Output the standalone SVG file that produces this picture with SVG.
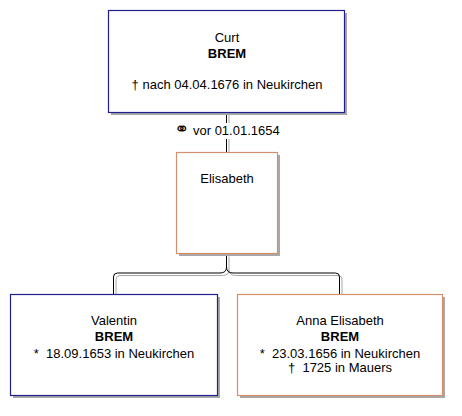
<svg xmlns="http://www.w3.org/2000/svg" width="462" height="416" viewBox="0 0 462 416">
<style>
text{font-family:"Liberation Sans",Arial,sans-serif;font-size:13px;fill:#000;text-anchor:middle}
.b{font-weight:bold}
.sym{font-family:"DejaVu Sans",sans-serif;font-size:18px}
.shadow{fill:#a8a8a8}
.m{fill:#fff;stroke:#1f1f8f;stroke-width:1.2}
.f{fill:#fff;stroke:#d4906c;stroke-width:1.2}
.c{fill:none;stroke:#000;stroke-width:1}
.cs{fill:none;stroke:#a8a8a8;stroke-width:1}
</style>
<rect width="462" height="416" fill="#fff"/>
<g id="connectors">
<g transform="translate(2.5,2.5)">
<path class="cs" d="M226.5,112 V152"/>
<path class="cs" d="M226.5,254 V267 Q226.5,273 220,273 H117.5 Q113.5,273 113.5,277 V294"/>
<path class="cs" d="M226.5,267 Q226.5,273 233,273 H335.5 Q339.5,273 339.5,277 V294"/>
</g>
<path class="c" d="M226.5,112 V152"/>
<path class="c" d="M226.5,254 V267 Q226.5,273 220,273 H117.5 Q113.5,273 113.5,277 V294"/>
<path class="c" d="M226.5,267 Q226.5,273 233,273 H335.5 Q339.5,273 339.5,277 V294"/>
<g id="marriage-label">
<rect x="174" y="123" width="106" height="16" fill="#fff"/>
<text x="227" y="135"><tspan class="sym">⚭</tspan> vor 01.01.1654</text>
</g>
</g>
<g id="curt">
<rect class="shadow" x="111" y="13" width="236" height="102"/>
<rect class="m" x="108.5" y="10.5" width="236" height="102"/>
<text x="227" y="42">Curt</text>
<text class="b" x="227" y="58">BREM</text>
<text x="227" y="89">† nach 04.04.1676 in Neukirchen</text>
</g>
<g id="elisabeth">
<rect class="shadow" x="179" y="155" width="101" height="101"/>
<rect class="f" x="176.5" y="152.5" width="101" height="101"/>
<text x="227" y="183">Elisabeth</text>
</g>
<g id="valentin">
<rect class="shadow" x="13" y="297" width="207" height="101"/>
<rect class="m" x="10.5" y="294.5" width="207" height="101"/>
<text x="114" y="325">Valentin</text>
<text class="b" x="114" y="341">BREM</text>
<text x="114" y="358">*&#160; 18.09.1653 in Neukirchen</text>
</g>
<g id="anna">
<rect class="shadow" x="240" y="297" width="205" height="101"/>
<rect class="f" x="237.5" y="294.5" width="205" height="101"/>
<text x="340" y="325">Anna Elisabeth</text>
<text class="b" x="340" y="341">BREM</text>
<text x="340" y="358">*&#160; 23.03.1656 in Neukirchen</text>
<text x="340" y="372">†&#160; 1725 in Mauers</text>
</g>
</svg>
